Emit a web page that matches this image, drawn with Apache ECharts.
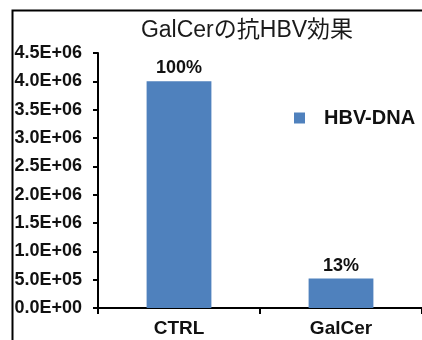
<!DOCTYPE html>
<html>
<head>
<meta charset="utf-8">
<script src="https://cdn.jsdelivr.net/npm/echarts@6/dist/echarts.min.js"></script>
<style>
  html, body { margin: 0; padding: 0; background: #fff; }
  #chart { width: 422px; height: 340px; }
</style>
</head>
<body>
<div id="chart"></div>
<script>
// Chart data
const titleText = 'GalCerの抗HBV効果';
const seriesName = 'HBV-DNA';
const categories = ['CTRL', 'GalCer'];
const hbvDna = [4000000, 520000];
const yMin = 0;
const yMax = 4500000;
const yStep = 500000;

// Scientific tick format like 4.5E+06
function sci(v) {
  const [m, e] = v.toExponential(1).split('e');
  const n = parseInt(e, 10);
  const sign = n < 0 ? '-' : '+';
  return m + 'E' + sign + String(Math.abs(n)).padStart(2, '0');
}

const base = hbvDna[0];
const font = '"Liberation Sans", Arial, sans-serif';

const chart = echarts.init(document.getElementById('chart'), null, { renderer: 'canvas' });
chart.setOption({
  animation: false,
  backgroundColor: '#fff',
  title: {
    text: titleText,
    left: 242,
    textAlign: 'center',
    top: 14,
    textStyle: { fontFamily: font + ', "Noto Sans CJK JP"', fontSize: 23, fontWeight: 'normal', color: '#1a1a1a' }
  },
  legend: {
    left: 289,
    top: 103,
    icon: 'rect',
    itemWidth: 11,
    itemHeight: 11,
    itemGap: 0,
    textStyle: { fontFamily: font, fontSize: 20, fontWeight: 'bold', color: '#111', padding: [0, 0, 0, 14] },
    data: [seriesName]
  },
  graphic: [{
    type: 'polyline',
    shape: { points: [[12.5, 340], [12.5, 10.5], [422, 10.5]] },
    style: { stroke: '#000', lineWidth: 2, fill: null }
  }],
  grid: { left: 98, right: -6, top: 53, bottom: 32 },
  xAxis: {
    type: 'category',
    data: categories,
    axisLine: { lineStyle: { color: '#000', width: 2 } },
    axisTick: { show: true, length: 6, lineStyle: { color: '#000', width: 2 } },
    axisLabel: { margin: 11, fontFamily: font, fontSize: 19, fontWeight: 'bold', color: '#111' }
  },
  yAxis: {
    type: 'value',
    min: yMin,
    max: yMax,
    interval: yStep,
    splitLine: { show: false },
    axisLine: { show: true, lineStyle: { color: '#000', width: 2 } },
    axisTick: { show: true, length: 5, lineStyle: { color: '#000', width: 2 } },
    axisLabel: { margin: 16, fontFamily: font, fontSize: 18, fontWeight: 'bold', color: '#111', formatter: sci }
  },
  series: [{
    name: seriesName,
    type: 'bar',
    data: hbvDna,
    barWidth: '40%',
    itemStyle: { color: '#4F81BD' },
    label: {
      show: true,
      position: 'top',
      distance: 4,
      fontFamily: font,
      fontSize: 18,
      fontWeight: 'bold',
      color: '#111',
      formatter: p => Math.round(p.value / base * 100) + '%'
    }
  }]
});
</script>
</body>
</html>
